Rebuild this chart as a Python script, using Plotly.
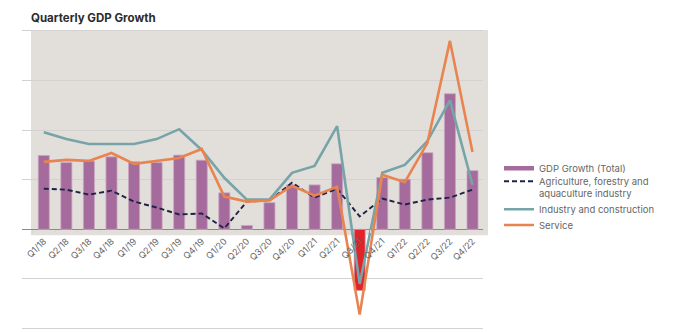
import plotly.graph_objects as go

quarters = ["Q1/18", "Q2/18", "Q3/18", "Q4/18", "Q1/19", "Q2/19", "Q3/19", "Q4/19",
            "Q1/20", "Q2/20", "Q3/20", "Q4/20", "Q1/21", "Q2/21", "Q3/21", "Q4/21",
            "Q1/22", "Q2/22", "Q3/22", "Q4/22"]
gdp_total = [7.45, 6.73, 6.88, 7.31, 6.82, 6.73, 7.48, 6.97, 3.68, 0.39, 2.69, 4.48,
             4.48, 6.61, -6.17, 5.22, 5.05, 7.72, 13.67, 5.92]
agriculture = [4.1, 4.0, 3.5, 3.9, 2.8, 2.2, 1.5, 1.6, 0.1, 2.8, 2.9, 4.7,
               3.2, 4.1, 1.3, 3.1, 2.5, 3.0, 3.2, 4.0]
industry = [9.8, 9.1, 8.6, 8.6, 8.6, 9.1, 10.1, 8.0, 5.2, 3.0, 3.0, 5.7,
            6.4, 10.4, -5.5, 5.7, 6.5, 8.9, 13.0, 4.5]
service = [6.8, 7.0, 6.9, 7.7, 6.6, 6.9, 7.2, 8.1, 3.3, 2.8, 2.9, 4.4,
           3.4, 4.3, -8.6, 5.5, 4.75, 8.7, 19.0, 7.8]

PURPLE = "#a56b9c"
RED = "#e2242a"
NAVY = "#1e2246"
TEAL = "#76a4a9"
ORANGE = "#e8844f"
bar_colors = [RED if v < 0 else PURPLE for v in gdp_total]

YMIN, YMAX = -10.35, 20.2
T, B = 29, 0
PLOT_H = 332 - T - B


def py(p):
    return (332 - B - p) / PLOT_H


fig = go.Figure()
fig.add_trace(go.Bar(
    x=quarters, y=gdp_total, name="GDP Growth (Total)", showlegend=False,
    marker=dict(color=bar_colors, line=dict(color="#c9a6c2", width=0.8)),
    width=0.49,
))
# legend proxy for the bar series (wide swatch as in reference)
fig.add_trace(go.Scatter(
    x=[None], y=[None], mode="lines", name="GDP Growth (Total)",
    line=dict(color=PURPLE, width=4.5), legend="legend",
))
fig.add_trace(go.Scatter(
    x=quarters, y=agriculture, mode="lines",
    name="Agriculture, forestry and<br>aquaculture industry",
    line=dict(color=NAVY, width=1.9, dash="5px,3px"), legend="legend2",
))
fig.add_trace(go.Scatter(
    x=quarters, y=industry, mode="lines", name="Industry and construction",
    line=dict(color=TEAL, width=2.6), legend="legend3",
))
fig.add_trace(go.Scatter(
    x=quarters, y=service, mode="lines", name="Service",
    line=dict(color=ORANGE, width=2.6), legend="legend4",
))

fig.add_shape(type="rect", xref="paper", yref="y",
              x0=(31 - 22) / 461, x1=(488 - 22) / 461, y0=-0.6, y1=20.1,
              fillcolor="#e2dfda", line=dict(width=0), layer="below")

LX = (499 - 22) / 461
leg_common = dict(x=LX, xanchor="left", yanchor="middle",
                  font=dict(size=9.5, color="#666666"), bgcolor="rgba(0,0,0,0)",
                  itemwidth=30)

fig.update_layout(
    width=678, height=332,
    margin=dict(l=22, r=195, t=T, b=B),
    paper_bgcolor="white", plot_bgcolor="rgba(0,0,0,0)",
    font=dict(family="Inter, Open Sans, sans-serif", color="#666666", size=10),
    title=dict(text="<b>Quarterly GDP Growth</b>", x=31 / 678, xanchor="left",
               y=1 - 18 / 332, yanchor="middle",
               font=dict(size=11.5, color="#2b2b2b", family="Inter, Open Sans, sans-serif")),
    showlegend=True,
    legend=dict(y=py(168.3), **leg_common),
    legend2=dict(y=py(187.5), valign="top", **leg_common),
    legend3=dict(y=py(209.3), **leg_common),
    legend4=dict(y=py(225), **leg_common),
)
fig.update_xaxes(
    type="category", range=[-0.966, 19.465], tickangle=-45,
    anchor="free", position=(0 - YMIN) / (YMAX - YMIN),
    showgrid=False, zeroline=False, showline=False,
    ticks="outside", tickson="boundaries", ticklen=3, tickcolor="#d8d8d8",
    ticklabelstandoff=4,
    tickfont=dict(size=9, color="#666666"), automargin=False,
)
fig.update_yaxes(
    range=[YMIN, YMAX], dtick=5, showticklabels=False,
    showgrid=True, gridcolor="#d3d2d0", gridwidth=1,
    zeroline=True, zerolinecolor="#8a8a8a", zerolinewidth=1,
    automargin=False,
)

fig.write_html("out.html")
